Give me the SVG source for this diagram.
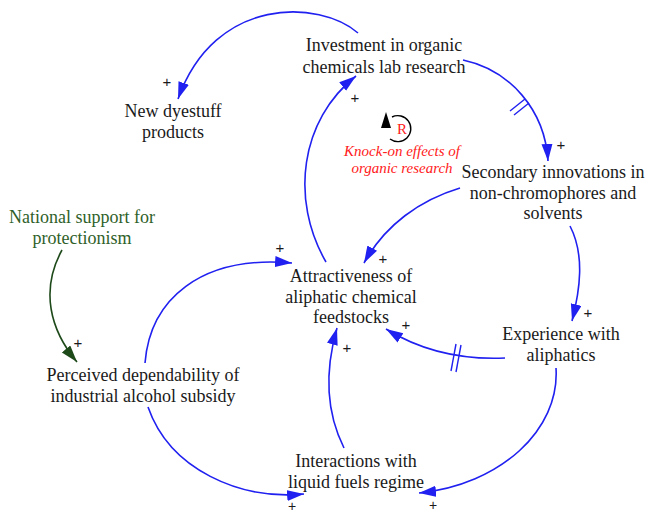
<svg xmlns="http://www.w3.org/2000/svg" width="646" height="514" viewBox="0 0 646 514">
<style>
.t{font-family:"Liberation Serif","Times New Roman",serif;font-size:18px;fill:#1a1a1a;text-anchor:middle}
.g{fill:#2f5f2a}
.r{font-family:"Liberation Serif",serif;font-style:italic;font-size:15px;fill:#ff2020;text-anchor:middle}
.p{font-family:"Liberation Sans",Arial,sans-serif;font-size:15px;fill:#1a1a1a;text-anchor:middle}
.c{fill:none;stroke:#2020f0;stroke-width:1.6;marker-end:url(#ab)}
.h{stroke:#2020f0;stroke-width:1.4}
</style>
<defs>
<marker id="ab" markerUnits="userSpaceOnUse" markerWidth="18" markerHeight="12" refX="17" refY="5.5" orient="auto"><path d="M0,0 L17,5.5 L0,11 z" fill="#2020f0"/></marker>
<marker id="ag" markerUnits="userSpaceOnUse" markerWidth="18" markerHeight="12" refX="17" refY="5.5" orient="auto"><path d="M0,0 L17,5.5 L0,11 z" fill="#1e4a1a"/></marker>
</defs>
<g id="connectors">
<path class="c" d="M358,33 C320,0 215,-5 178,99"/>
<path class="c" d="M326,262 C290,200 300,120 356,76"/>
<path class="c" d="M463,60 C510,70 545,110 548,161"/>
<line class="h" x1="510" y1="111" x2="525" y2="99"/>
<line class="h" x1="514" y1="115" x2="529" y2="103"/>
<path class="c" d="M460,188 C420,200 385,225 364,263"/>
<path class="c" d="M570,226 C585,255 580,290 572,321"/>
<path class="c" d="M505,358 C460,360 420,350 386,329"/>
<line class="h" x1="451" y1="371" x2="456" y2="344"/>
<line class="h" x1="456" y1="372" x2="461" y2="345"/>
<path class="c" d="M344,448 C325,410 325,370 337,328"/>
<path class="c" d="M145,363 C150,300 200,255 292,263"/>
<path fill="none" stroke="#1e4a1a" stroke-width="1.6" marker-end="url(#ag)" d="M62,250 C40,290 50,330 77,362"/>
<path class="c" d="M148,407 C170,470 240,500 304,494"/>
<path class="c" d="M556,368 C560,430 500,485 419,493"/>
</g>
<g id="loop">
<path d="M392,117 A13,13 0 1 1 390,139" fill="none" stroke="#000" stroke-width="1.4"/>
<path d="M386,112 L381,128 L391,128 z" fill="#000"/>
<text class="r" x="402" y="134" style="font-style:normal;font-size:15px">R</text>
<text class="r" x="402" y="156">Knock-on effects of</text>
<text class="r" x="402" y="173">organic research</text>
</g>
<g id="investment"><text class="t" x="384" y="51">Investment in organic</text><text class="t" x="384" y="73">chemicals lab research</text></g>
<g id="dyestuff"><text class="t" x="173" y="117">New dyestuff</text><text class="t" x="173" y="138">products</text></g>
<g id="secondary"><text class="t" x="553" y="178">Secondary innovations in</text><text class="t" x="553" y="199">non-chromophores and</text><text class="t" x="553" y="219">solvents</text></g>
<g id="national"><text class="t g" x="82" y="223">National support for</text><text class="t g" x="82" y="244">protectionism</text></g>
<g id="attractiveness"><text class="t" x="351" y="282">Attractiveness of</text><text class="t" x="351" y="303">aliphatic chemical</text><text class="t" x="351" y="323">feedstocks</text></g>
<g id="experience"><text class="t" x="561" y="340">Experience with</text><text class="t" x="561" y="361">aliphatics</text></g>
<g id="perceived"><text class="t" x="143" y="381">Perceived dependability of</text><text class="t" x="143" y="402">industrial alcohol subsidy</text></g>
<g id="interactions"><text class="t" x="356" y="467">Interactions with</text><text class="t" x="356" y="488">liquid fuels regime</text></g>
<g id="signs">
<text class="p" x="167" y="87">+</text>
<text class="p" x="355" y="103">+</text>
<text class="p" x="561" y="150">+</text>
<text class="p" x="383" y="264">+</text>
<text class="p" x="588" y="318">+</text>
<text class="p" x="406" y="330">+</text>
<text class="p" x="347" y="353">+</text>
<text class="p" x="280" y="253">+</text>
<text class="p" x="78" y="348">+</text>
<text class="p" x="292" y="511" style="font-size:14px">+</text>
<text class="p" x="433" y="510" style="font-size:14px">+</text>
</g>
</svg>
